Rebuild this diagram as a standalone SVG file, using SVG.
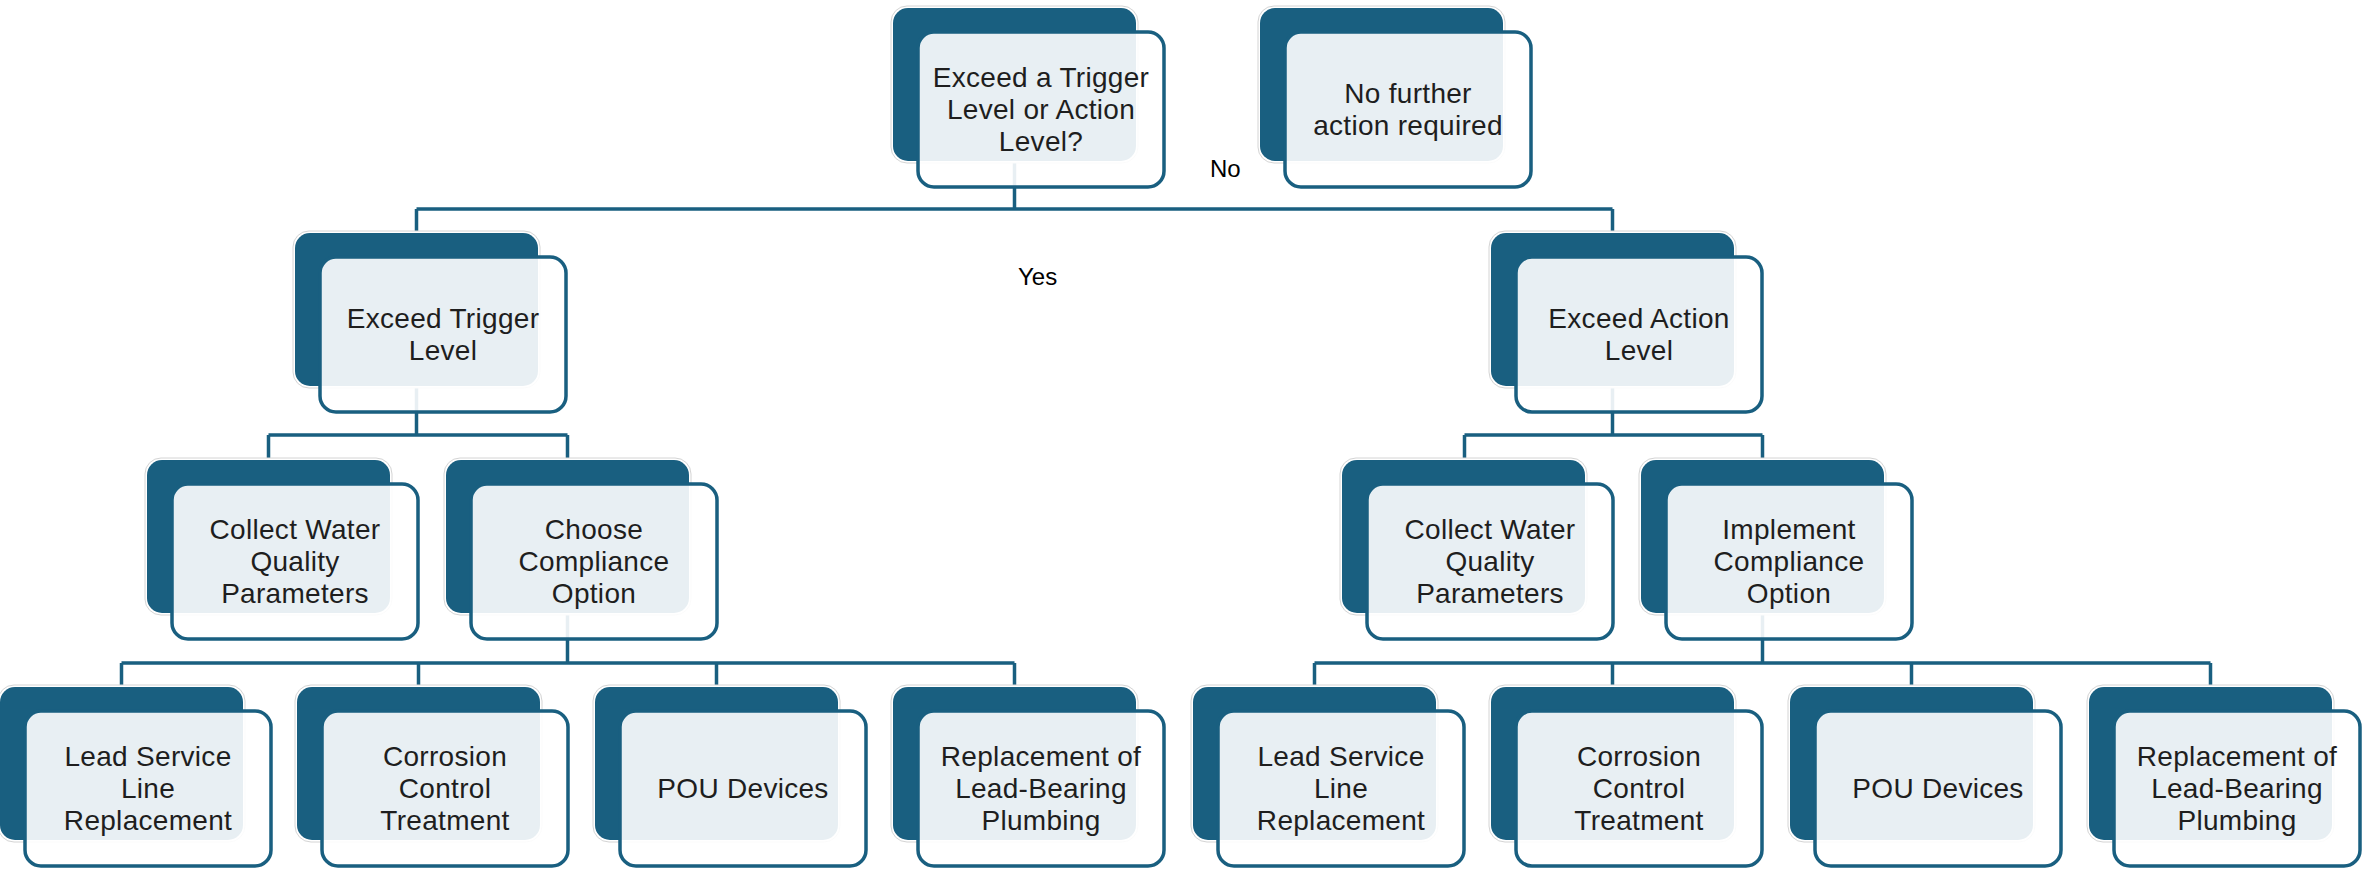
<svg xmlns="http://www.w3.org/2000/svg" width="2369" height="872" viewBox="0 0 2369 872">
<style>
.halo{fill:#ffffff;stroke:#d4d4d4;stroke-width:1}
.back{fill:#195f80}
.front{fill:#ffffff;fill-opacity:0.9;stroke:#195f80;stroke-width:3.5}
.lbl{font-family:"Liberation Sans",Arial,sans-serif;font-size:28px;letter-spacing:0.3px;fill:#1e1e1e;text-anchor:middle}
.edge{font-family:"Liberation Sans",Arial,sans-serif;font-size:24px;fill:#000000}
.conn{fill:none;stroke:#195f80;stroke-width:3.5}
</style>
<defs>
<g id="box">
<rect class="halo" x="-2" y="-2" width="247" height="157" rx="16"/>
<rect class="back" x="0" y="0" width="243" height="153" rx="15"/>
<rect class="front" x="25" y="24" width="246" height="155" rx="16"/>
</g>
</defs>
<rect width="2369" height="872" fill="#ffffff"/>
<g id="connectors">
<path class="conn" d="M1014.5 161V209M416.5 209H1612.5M416.5 209V233M1612.5 209V233"/>
<path class="conn" d="M416.5 386V435M268.5 435H567.5M268.5 435V460M567.5 435V460"/>
<path class="conn" d="M1612.5 386V435M1464.5 435H1762.5M1464.5 435V460M1762.5 435V460"/>
<path class="conn" d="M567.5 613V663M121.5 663H1014.5M121.5 663V687M418.5 663V687M716.5 663V687M1014.5 663V687"/>
<path class="conn" d="M1762.5 613V663M1314.5 663H2210.5M1314.5 663V687M1612.5 663V687M1911.5 663V687M2210.5 663V687"/>
</g>
<g id="node-top" transform="translate(893,8)">
<use href="#box"/>
<text class="lbl" x="148" y="79">Exceed a Trigger</text>
<text class="lbl" x="148" y="111">Level or Action</text>
<text class="lbl" x="148" y="143">Level?</text>
</g>
<g id="node-nofurther" transform="translate(1260,8)">
<use href="#box"/>
<text class="lbl" x="148" y="95">No further</text>
<text class="lbl" x="148" y="127">action required</text>
</g>
<g id="node-trigger" transform="translate(295,233)">
<use href="#box"/>
<text class="lbl" x="148" y="95">Exceed Trigger</text>
<text class="lbl" x="148" y="127">Level</text>
</g>
<g id="node-action" transform="translate(1491,233)">
<use href="#box"/>
<text class="lbl" x="148" y="95">Exceed Action</text>
<text class="lbl" x="148" y="127">Level</text>
</g>
<g id="node-collect-l" transform="translate(147,460)">
<use href="#box"/>
<text class="lbl" x="148" y="79">Collect Water</text>
<text class="lbl" x="148" y="111">Quality</text>
<text class="lbl" x="148" y="143">Parameters</text>
</g>
<g id="node-choose" transform="translate(446,460)">
<use href="#box"/>
<text class="lbl" x="148" y="79">Choose</text>
<text class="lbl" x="148" y="111">Compliance</text>
<text class="lbl" x="148" y="143">Option</text>
</g>
<g id="node-collect-r" transform="translate(1342,460)">
<use href="#box"/>
<text class="lbl" x="148" y="79">Collect Water</text>
<text class="lbl" x="148" y="111">Quality</text>
<text class="lbl" x="148" y="143">Parameters</text>
</g>
<g id="node-implement" transform="translate(1641,460)">
<use href="#box"/>
<text class="lbl" x="148" y="79">Implement</text>
<text class="lbl" x="148" y="111">Compliance</text>
<text class="lbl" x="148" y="143">Option</text>
</g>
<g id="node-lslr-l" transform="translate(0,687)">
<use href="#box"/>
<text class="lbl" x="148" y="79">Lead Service</text>
<text class="lbl" x="148" y="111">Line</text>
<text class="lbl" x="148" y="143">Replacement</text>
</g>
<g id="node-cct-l" transform="translate(297,687)">
<use href="#box"/>
<text class="lbl" x="148" y="79">Corrosion</text>
<text class="lbl" x="148" y="111">Control</text>
<text class="lbl" x="148" y="143">Treatment</text>
</g>
<g id="node-pou-l" transform="translate(595,687)">
<use href="#box"/>
<text class="lbl" x="148" y="111">POU Devices</text>
</g>
<g id="node-rlbp-l" transform="translate(893,687)">
<use href="#box"/>
<text class="lbl" x="148" y="79">Replacement of</text>
<text class="lbl" x="148" y="111">Lead-Bearing</text>
<text class="lbl" x="148" y="143">Plumbing</text>
</g>
<g id="node-lslr-r" transform="translate(1193,687)">
<use href="#box"/>
<text class="lbl" x="148" y="79">Lead Service</text>
<text class="lbl" x="148" y="111">Line</text>
<text class="lbl" x="148" y="143">Replacement</text>
</g>
<g id="node-cct-r" transform="translate(1491,687)">
<use href="#box"/>
<text class="lbl" x="148" y="79">Corrosion</text>
<text class="lbl" x="148" y="111">Control</text>
<text class="lbl" x="148" y="143">Treatment</text>
</g>
<g id="node-pou-r" transform="translate(1790,687)">
<use href="#box"/>
<text class="lbl" x="148" y="111">POU Devices</text>
</g>
<g id="node-rlbp-r" transform="translate(2089,687)">
<use href="#box"/>
<text class="lbl" x="148" y="79">Replacement of</text>
<text class="lbl" x="148" y="111">Lead-Bearing</text>
<text class="lbl" x="148" y="143">Plumbing</text>
</g>
<g id="edge-labels">
<text class="edge" x="1210" y="177">No</text>
<text class="edge" x="1018" y="285">Yes</text>
</g>
</svg>
